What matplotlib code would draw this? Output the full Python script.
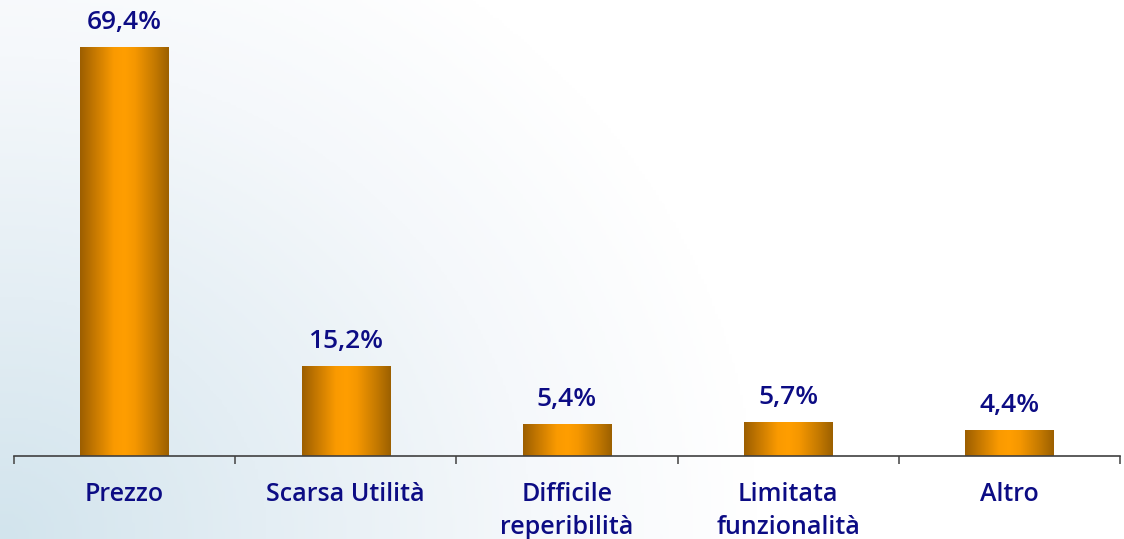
import numpy as np
import matplotlib
matplotlib.use("Agg")
import matplotlib.pyplot as plt
from matplotlib.colors import LinearSegmentedColormap

categories = ["Prezzo", "Scarsa Utilità", "Difficile\nreperibilità", "Limitata\nfunzionalità", "Altro"]
values = [69.4, 15.2, 5.4, 5.7, 4.4]
value_labels = ["69,4%", "15,2%", "5,4%", "5,7%", "4,4%"]

W, H = 1124, 539
fig = plt.figure(figsize=(W / 100, H / 100), dpi=100)

# background gradient (light blue radiating from bottom-left corner -> white)
bg = fig.add_axes([0, 0, 1, 1], zorder=0)
bg.set_axis_off()
px, py = np.meshgrid(np.linspace(0, W, 400), np.linspace(0, H, 200))
t = np.clip(np.hypot(px, py * 1.1) / 760.0, 0, 1)
bg_cmap = LinearSegmentedColormap.from_list(
    "bg", [(0, "#d2e4ed"), (0.35, "#e4eef4"), (0.7, "#f5f8fb"), (1, "#ffffff")])
bg.imshow(t, cmap=bg_cmap, origin="lower", extent=[0, 1, 0, 1], aspect="auto")
bg.set_xlim(0, 1)
bg.set_ylim(0, 1)

ax = fig.add_axes([14 / W, 83 / H, (1120 - 14) / W, 1 - 83 / H], zorder=1)
ax.patch.set_alpha(0)
x = np.arange(len(categories))
bars = ax.bar(x, values, width=0.4, color="none", edgecolor="none")

bar_cmap = LinearSegmentedColormap.from_list(
    "bar", [(0, "#9c5e00"), (0.15, "#c27600"), (0.38, "#fa9a00"), (0.5, "#ff9e00"),
            (0.62, "#f59700"), (0.85, "#c27800"), (1, "#9c6000")])
grad = np.linspace(0, 1, 256).reshape(1, -1)
for b in bars:
    x0, w, h = b.get_x(), b.get_width(), b.get_height()
    im = ax.imshow(grad, cmap=bar_cmap, extent=[x0, x0 + w, 0, h], aspect="auto", zorder=2)
    im.set_clip_path(b)

ax.set_xlim(-0.5, len(categories) - 0.5)
ax.set_ylim(0, 77.4)

FONT = "Open Sans"
for xi, v, lab in zip(x, values, value_labels):
    ax.annotate(lab, (xi, v), xytext=(0, 9), textcoords="offset points",
                ha="center", va="bottom", fontsize=19, fontweight="semibold",
                color="#0c0c84", family=FONT)

for s in ["top", "right", "left"]:
    ax.spines[s].set_visible(False)
ax.spines["bottom"].set_color("#404040")
ax.spines["bottom"].set_linewidth(1.2)
ax.set_yticks([])
ax.set_xticks(np.arange(-0.5, len(categories), 1.0))
ax.set_xticklabels([])
ax.tick_params(axis="x", length=6, width=1.2, color="#505050", direction="out")
ax.set_xticks(x, minor=True)
ax.set_xticklabels(categories, minor=True)
ax.tick_params(axis="x", which="minor", length=0, pad=19)
for lbl in ax.get_xticklabels(minor=True):
    lbl.set_fontsize(18)
    lbl.set_fontweight("semibold")
    lbl.set_color("#0c0c84")
    lbl.set_family(FONT)
    lbl.set_linespacing(1.4)
    lbl.set_verticalalignment("top")

fig.savefig("out.png", dpi=100)
